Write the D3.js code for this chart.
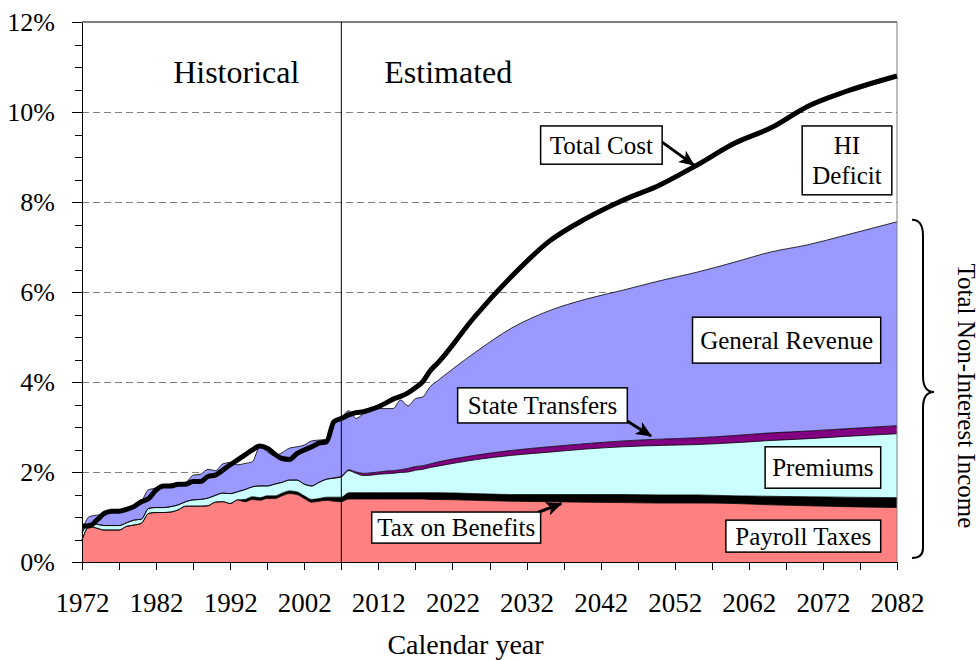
<!DOCTYPE html>
<html>
<head>
<meta charset="utf-8">
<script src="https://cdn.jsdelivr.net/npm/d3@7/dist/d3.min.js"></script>
<style>
  body { margin: 0; background: #fff; }
  svg text { font-family: "Liberation Serif", "Times New Roman", serif; fill: #000; }
  .axis path, .axis line { stroke: #000; shape-rendering: crispEdges; }
  .gridline { stroke: #808080; stroke-dasharray: 7,4; shape-rendering: crispEdges; }
  .note rect { fill: #fff; stroke: #000; stroke-width: 1.5; }
</style>
</head>
<body>
<script>

// calendar years (annual through 2020, then read every 5 years)
var years = [1972, 1973, 1974, 1975, 1976, 1977, 1978, 1979, 1980, 1981,
             1982, 1983, 1984, 1985, 1986, 1987, 1988, 1989, 1990, 1991,
             1992, 1993, 1994, 1995, 1996, 1997, 1998, 1999, 2000, 2001,
             2002, 2003, 2004, 2005, 2006, 2007, 2008, 2009, 2010, 2011,
             2012, 2013, 2014, 2015, 2016, 2017, 2018, 2019, 2020,
             2025, 2030, 2035, 2040, 2045, 2050, 2055, 2060, 2065, 2070, 2075, 2082];

// income sources, % of GDP
var payroll = [0.49, 0.79, 0.75, 0.71, 0.71, 0.71, 0.79, 0.82, 0.86, 1.08,
               1.10, 1.10, 1.11, 1.16, 1.24, 1.24, 1.24, 1.25, 1.33, 1.34,
               1.30, 1.38, 1.34, 1.39, 1.37, 1.41, 1.41, 1.47, 1.52, 1.50,
               1.41, 1.33, 1.35, 1.37, 1.35, 1.34, 1.40, 1.40, 1.40, 1.40,
               1.40, 1.40, 1.40, 1.40, 1.40, 1.40, 1.40, 1.39, 1.39,
               1.37, 1.35, 1.34, 1.33, 1.32, 1.31, 1.31, 1.30, 1.27, 1.25, 1.23, 1.21];

var taxOnBenefits = [0, 0, 0, 0, 0, 0, 0, 0, 0, 0,
                     0, 0, 0, 0, 0, 0, 0, 0, 0, 0,
                     0, 0, 0.05, 0.06, 0.06, 0.06, 0.06, 0.06, 0.06, 0.06,
                     0.06, 0.06, 0.06, 0.07, 0.09, 0.10, 0.14, 0.14, 0.14, 0.14,
                     0.14, 0.14, 0.14, 0.14, 0.14, 0.14, 0.14, 0.15, 0.15,
                     0.15, 0.15, 0.16, 0.17, 0.18, 0.18, 0.18, 0.17, 0.19, 0.20, 0.21, 0.22];

var premiums = [0.16, 0.07, 0.09, 0.10, 0.10, 0.10, 0.08, 0.11, 0.09, 0.11,
                0.11, 0.11, 0.12, 0.11, 0.10, 0.14, 0.15, 0.17, 0.15, 0.19,
                0.22, 0.18, 0.22, 0.22, 0.26, 0.22, 0.26, 0.24, 0.24, 0.26,
                0.26, 0.30, 0.36, 0.40, 0.42, 0.45, 0.49, 0.43, 0.38, 0.39,
                0.41, 0.42, 0.43, 0.45, 0.46, 0.50, 0.52, 0.56, 0.59,
                0.75, 0.87, 0.94, 1.01, 1.06, 1.10, 1.12, 1.18, 1.24, 1.29, 1.35, 1.42];

var stateTransfers = [0, 0, 0, 0, 0, 0, 0, 0, 0, 0,
                      0, 0, 0, 0, 0, 0, 0, 0, 0, 0,
                      0, 0, 0, 0, 0, 0, 0, 0, 0, 0,
                      0, 0, 0, 0, 0.01, 0.02, 0.02, 0.03, 0.05, 0.05,
                      0.05, 0.06, 0.06, 0.06, 0.08, 0.08, 0.08, 0.08, 0.09,
                      0.10, 0.11, 0.12, 0.12, 0.13, 0.14, 0.15, 0.16, 0.17, 0.17, 0.17, 0.18];

var generalRevenue = [0.05, 0.15, 0.20, 0.26, 0.31, 0.31, 0.29, 0.31, 0.39, 0.42,
                      0.43, 0.48, 0.50, 0.49, 0.43, 0.55, 0.56, 0.64, 0.55, 0.65,
                      0.69, 0.60, 0.58, 0.56, 0.87, 0.76, 0.63, 0.66, 0.71, 0.74,
                      0.87, 1.00, 0.94, 0.89, 1.25, 1.30, 1.31, 1.19, 1.33, 1.39,
                      1.41, 1.39, 1.38, 1.55, 1.39, 1.51, 1.53, 1.72, 1.81,
                      2.28, 2.72, 3.02, 3.21, 3.35, 3.52, 3.68, 3.85, 4.02, 4.14, 4.30, 4.53];

// total expenditures, % of GDP
var totalCost = [0.80, 0.80, 0.93, 1.08, 1.13, 1.13, 1.17, 1.23, 1.34, 1.41,
                 1.60, 1.69, 1.69, 1.73, 1.73, 1.79, 1.79, 1.90, 1.93, 2.04,
                 2.16, 2.27, 2.38, 2.49, 2.58, 2.53, 2.40, 2.30, 2.28, 2.41,
                 2.49, 2.56, 2.64, 2.67, 3.12, 3.19, 3.27, 3.32, 3.34, 3.39,
                 3.45, 3.53, 3.62, 3.68, 3.76, 3.87, 4.01, 4.25, 4.42,
                 5.45, 6.35, 7.12, 7.63, 8.04, 8.38, 8.82, 9.30, 9.65, 10.13, 10.45, 10.80];

var lastHistoricalYear = 2007;
var yTicks = [0, 2, 4, 6, 8, 10, 12];
var xTicks = [1972, 1977, 1982, 1987, 1992, 1997, 2002, 2007, 2012, 2017, 2022, 2027,
              2032, 2037, 2042, 2047, 2052, 2057, 2062, 2067, 2072, 2077, 2082];

var keys = ["payroll", "taxOnBenefits", "premiums", "stateTransfers", "generalRevenue"];
var colors = {payroll: "#ff8080", taxOnBenefits: "#000000", premiums: "#ccffff",
              stateTransfers: "#800080", generalRevenue: "#9999ff"};

var margin = {top: 22, right: 83, bottom: 98, left: 82};
var width = 980 - margin.left - margin.right;
var height = 660 - margin.top - margin.bottom;

var x = d3.scaleLinear().domain([1972, 2082]).range([0, width]);
var y = d3.scaleLinear().domain([0, 12]).range([height, 0]);

var svg = d3.select("body").append("svg")
    .attr("width", width + margin.left + margin.right)
    .attr("height", height + margin.top + margin.bottom)
  .append("g")
    .attr("transform", "translate(" + margin.left + "," + margin.top + ")");

var defs = svg.append("defs");
defs.append("marker")
    .attr("id", "arrow")
    .attr("markerUnits", "userSpaceOnUse")
    .attr("markerWidth", 16).attr("markerHeight", 14)
    .attr("refX", 15).attr("refY", 7)
    .attr("orient", "auto")
  .append("path")
    .attr("d", "M0,0 L16,7 L0,14 L4,7 Z")
    .attr("fill", "#000");

// gridlines
svg.append("g").selectAll("line")
    .data(yTicks.filter(function(d) { return d > 0 && d < 12; }))
  .enter().append("line")
    .attr("class", "gridline")
    .attr("x1", 0).attr("x2", width)
    .attr("y1", function(d) { return y(d); })
    .attr("y2", function(d) { return y(d); });

// stacked income
var rows = years.map(function(yr, i) {
  return {year: yr, payroll: payroll[i], taxOnBenefits: taxOnBenefits[i],
          premiums: premiums[i], stateTransfers: stateTransfers[i],
          generalRevenue: generalRevenue[i]};
});
var stacked = d3.stack().keys(keys)(rows);

var area = d3.area()
    .curve(d3.curveMonotoneX)
    .x(function(d) { return x(d.data.year); })
    .y0(function(d) { return y(d[0]); })
    .y1(function(d) { return y(d[1]); });

var topLine = d3.line()
    .curve(d3.curveMonotoneX)
    .x(function(d) { return x(d.data.year); })
    .y(function(d) { return y(d[1]); });

svg.append("g").selectAll("path")
    .data(stacked)
  .enter().append("path")
    .attr("d", area)
    .attr("fill", function(s) { return colors[s.key]; });

svg.append("g").selectAll("path")
    .data(stacked)
  .enter().append("path")
    .attr("d", topLine)
    .attr("fill", "none")
    .attr("stroke", "#000")
    .attr("stroke-width", 0.8);

// plot frame: top and right border
svg.append("line").attr("x1", 0).attr("x2", width).attr("y1", 0).attr("y2", 0)
    .attr("stroke", "#000").attr("stroke-width", 1.2);
svg.append("line").attr("x1", width).attr("x2", width).attr("y1", 0).attr("y2", height)
    .attr("stroke", "#808080").attr("stroke-width", 1);

// historical / estimated divider
svg.append("line")
    .attr("x1", x(lastHistoricalYear)).attr("x2", x(lastHistoricalYear))
    .attr("y1", 0).attr("y2", height)
    .attr("stroke", "#000").attr("stroke-width", 1);

svg.append("text")
    .attr("x", x(lastHistoricalYear) - 42).attr("y", 61)
    .attr("text-anchor", "end")
    .style("font-size", "32px")
    .text("Historical");
svg.append("text")
    .attr("x", x(lastHistoricalYear) + 43).attr("y", 61)
    .style("font-size", "32px")
    .text("Estimated");

// total cost
var costLine = d3.line()
    .curve(d3.curveMonotoneX)
    .x(function(d, i) { return x(years[i]); })
    .y(function(d) { return y(d); });

svg.append("path")
    .datum(totalCost)
    .attr("d", costLine)
    .attr("fill", "none")
    .attr("stroke", "#000")
    .attr("stroke-width", 5)
    .attr("stroke-linejoin", "round");

// axes
var yAxis = d3.axisLeft(y).tickValues(yTicks).tickSize(10).tickSizeOuter(0)
    .tickPadding(17).tickFormat(function(d) { return d + "%"; });
var yMinor = d3.axisLeft(y).tickValues(d3.range(0, 12.01, 0.5)).tickSize(7)
    .tickSizeOuter(0).tickFormat("");

svg.append("g").attr("class", "axis").call(yMinor);
svg.append("g").attr("class", "axis").call(yAxis)
    .selectAll("text").style("font-size", "26px");

var xAxis = d3.axisBottom(x).tickValues(xTicks).tickSize(8).tickSizeOuter(0)
    .tickFormat(function(d) { return (d - 1972) % 10 === 0 ? d : ""; });

svg.append("g").attr("class", "axis")
    .attr("transform", "translate(0," + height + ")")
    .call(xAxis)
  .selectAll("text")
    .attr("y", 50).attr("dy", 0)
    .style("font-size", "27px");

svg.append("text")
    .attr("x", width / 2 - 24).attr("y", height + 92)
    .attr("text-anchor", "middle")
    .style("font-size", "28px")
    .text("Calendar year");

// brace around total non-interest income
var incomeTop = y(d3.sum(keys, function(k) { return rows[rows.length - 1][k]; }));
var bx = width + 15, bx0 = width + 26, bx1 = width + 37;
var bMid = (incomeTop + height) / 2;
svg.append("path")
    .attr("d", "M" + bx + "," + (incomeTop - 2) +
               " Q" + bx0 + "," + (incomeTop - 2) + " " + bx0 + "," + (incomeTop + 14) +
               " L" + bx0 + "," + (bMid - 16) +
               " Q" + bx0 + "," + bMid + " " + bx1 + "," + bMid +
               " Q" + bx0 + "," + bMid + " " + bx0 + "," + (bMid + 16) +
               " L" + bx0 + "," + (height - 14) +
               " Q" + bx0 + "," + (height - 4) + " " + bx + "," + (height - 4))
    .attr("fill", "none")
    .attr("stroke", "#000")
    .attr("stroke-width", 2);

svg.append("text")
    .attr("transform", "translate(" + (width + 61) + "," + (bMid + 4) + ") rotate(90)")
    .attr("text-anchor", "middle")
    .style("font-size", "25px")
    .text("Total Non-Interest Income");

// label boxes (year / percent coordinates)
var notes = [
  {lines: ["Total Cost"], x0: 2033.9, x1: 2050.3, y0: 9.69, y1: 8.84},
  {lines: ["HI", "Deficit"], x0: 2069.2, x1: 2081.3, y0: 9.69, y1: 8.16},
  {lines: ["General Revenue"], x0: 2054.4, x1: 2079.8, y0: 5.44, y1: 4.42},
  {lines: ["State Transfers"], x0: 2022.7, x1: 2045.6, y0: 3.87, y1: 3.09},
  {lines: ["Premiums"], x0: 2064.2, x1: 2079.8, y0: 2.56, y1: 1.64},
  {lines: ["Payroll Taxes"], x0: 2058.9, x1: 2079.8, y0: 0.93, y1: 0.22},
  {lines: ["Tax on Benefits"], x0: 2011.1, x1: 2033.9, y0: 1.11, y1: 0.42}
];

var arrows = [
  {x0: 2050.3, y0: 9.33, x1: 2054.6, y1: 8.82},
  {x0: 2045.3, y0: 3.16, x1: 2048.8, y1: 2.80},
  {x0: 2033.5, y0: 1.10, x1: 2036.7, y1: 1.30}
];

svg.append("g").selectAll("line")
    .data(arrows)
  .enter().append("line")
    .attr("x1", function(d) { return x(d.x0); })
    .attr("y1", function(d) { return y(d.y0); })
    .attr("x2", function(d) { return x(d.x1); })
    .attr("y2", function(d) { return y(d.y1); })
    .attr("stroke", "#000")
    .attr("stroke-width", 3)
    .attr("marker-end", "url(#arrow)");

var note = svg.append("g").selectAll("g")
    .data(notes)
  .enter().append("g")
    .attr("class", "note");

note.append("rect")
    .attr("x", function(d) { return x(d.x0); })
    .attr("y", function(d) { return y(d.y0); })
    .attr("width", function(d) { return x(d.x1) - x(d.x0); })
    .attr("height", function(d) { return y(d.y1) - y(d.y0); });

note.each(function(d) {
  var cx = (x(d.x0) + x(d.x1)) / 2;
  var cy = (y(d.y0) + y(d.y1)) / 2;
  var n = d.lines.length;
  d3.select(this).selectAll("text")
      .data(d.lines)
    .enter().append("text")
      .attr("x", cx)
      .attr("y", function(t, i) { return cy + (i - (n - 1) / 2) * 30 + 8.5; })
      .attr("text-anchor", "middle")
      .style("font-size", "25px")
      .text(function(t) { return t; });
});

</script>
</body>
</html>
